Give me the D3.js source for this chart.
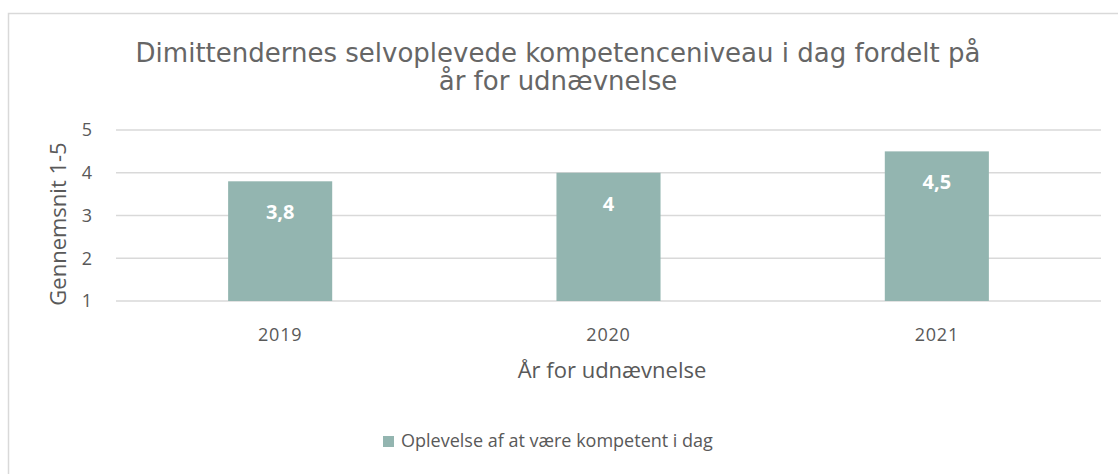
<!DOCTYPE html>
<html>
<head>
<meta charset="utf-8">
<script src="https://cdn.jsdelivr.net/npm/d3@7"></script>
<style>
  body { margin: 0; background: #fff; }
  text { fill: #595959; }
</style>
</head>
<body>
<div id="chart"></div>
<script>
var width = 1118;
var height = 474;

// data
var years = ["2019", "2020", "2021"];
var values = [3.8, 4, 4.5];
var yTicks = [1, 2, 3, 4, 5];
var seriesName = "Oplevelse af at være kompetent i dag";
var titleLines = ["Dimittendernes selvoplevede kompetenceniveau i dag fordelt på", "år for udnævnelse"];

var plot = { left: 116, right: 1101, top: 130, bottom: 301 };
var barColor = "#93b5b0";

var svg = d3.select("#chart")
	.append("svg")
	.attr("width", width)
	.attr("height", height);

// outer frame (runs off right & bottom edge)
svg.append("path")
	.attr("d", "M8.5," + height + " V13.5 H" + width)
	.attr("fill", "none")
	.attr("stroke", "#d9d9d9")
	.attr("stroke-width", 1.5);

var x = d3.scaleBand()
	.domain(years)
	.range([plot.left, plot.right])
	.paddingInner(0.683)
	.paddingOuter(0.3415);

var y = d3.scaleLinear()
	.domain([1, 5])
	.range([plot.bottom, plot.top]);

// gridlines
svg.append("g")
	.selectAll("line")
	.data(yTicks)
	.enter()
	.append("line")
	.attr("x1", plot.left)
	.attr("x2", plot.right)
	.attr("y1", function(d){ return y(d); })
	.attr("y2", function(d){ return y(d); })
	.attr("stroke", "#d9d9d9")
	.attr("stroke-width", 1.5);

// y axis labels
var yAxis = svg.append("g")
	.attr("transform", "translate(92,0)")
	.call(d3.axisLeft(y).tickValues(yTicks).tickFormat(d3.format("d")).tickSize(0).tickPadding(0));
yAxis.select(".domain").remove();
yAxis.selectAll("text")
	.attr("font-family", "'Open Sans', sans-serif")
	.attr("font-size", 18)
	.attr("fill", "#595959");

// x axis labels
var xAxis = svg.append("g")
	.attr("transform", "translate(0," + (plot.bottom + 27) + ")")
	.call(d3.axisBottom(x).tickSize(0).tickPadding(0));
xAxis.select(".domain").remove();
xAxis.selectAll("text")
	.attr("font-family", "'Open Sans', sans-serif")
	.attr("font-size", 18)
	.attr("letter-spacing", 0.8)
	.attr("fill", "#595959");

// bars
svg.selectAll(".bar")
	.data(values)
	.enter()
	.append("rect")
	.attr("class", "bar")
	.attr("x", function(d, i){ return x(years[i]); })
	.attr("width", x.bandwidth())
	.attr("y", function(d){ return y(d); })
	.attr("height", function(d){ return y(1) - y(d); })
	.attr("fill", barColor);

// data labels
svg.selectAll(".lbl")
	.data(values)
	.enter()
	.append("text")
	.attr("class", "lbl")
	.attr("x", function(d, i){ return x(years[i]) + x.bandwidth() / 2; })
	.attr("y", function(d){ return y(d) + 38; })
	.attr("text-anchor", "middle")
	.attr("font-family", "'Open Sans', sans-serif")
	.attr("font-weight", "bold")
	.attr("font-size", 20)
	.style("fill", "#fff")
	.text(function(d){ return String(d).replace(".", ","); });

// title
svg.append("text")
	.attr("text-anchor", "middle")
	.attr("font-family", "'DejaVu Sans', sans-serif")
	.attr("font-size", 26)
	.style("fill", "#666")
	.selectAll("tspan")
	.data(titleLines)
	.enter()
	.append("tspan")
	.attr("x", 558)
	.attr("y", function(d, i){ return 62 + i * 28; })
	.text(function(d){ return d; });

// axis titles
svg.append("text")
	.attr("transform", "translate(66,224) rotate(-90)")
	.attr("text-anchor", "middle")
	.attr("font-family", "'Open Sans', sans-serif")
	.attr("font-size", 22)
	.text("Gennemsnit 1-5");

svg.append("text")
	.attr("x", 612)
	.attr("y", 378)
	.attr("text-anchor", "middle")
	.attr("font-family", "'Open Sans', sans-serif")
	.attr("font-size", 22)
	.text("År for udnævnelse");

// legend
var legend = svg.append("g").attr("transform", "translate(383,436)");
legend.append("rect")
	.attr("width", 11)
	.attr("height", 11)
	.attr("fill", barColor);
legend.append("text")
	.attr("x", 18)
	.attr("y", 11)
	.attr("font-family", "'Open Sans', sans-serif")
	.attr("font-size", 18)
	.text(seriesName);
</script>
</body>
</html>
